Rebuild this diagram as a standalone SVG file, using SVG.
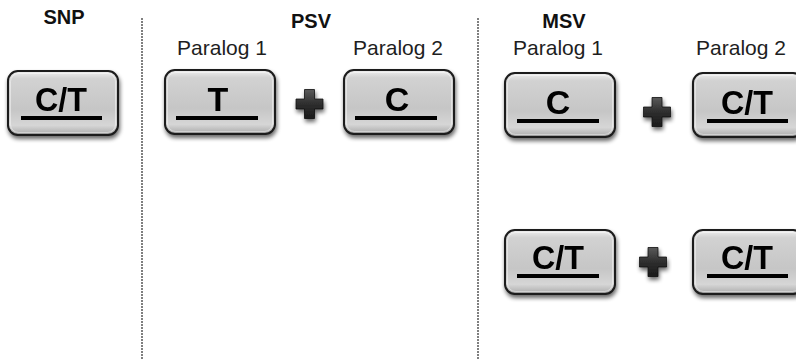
<svg xmlns="http://www.w3.org/2000/svg" width="796" height="359" viewBox="0 0 796 359">
  <defs>
    <linearGradient id="keyFill" x1="0" y1="0" x2="0" y2="1">
      <stop offset="0" stop-color="#f0f0f0"/>
      <stop offset="0.12" stop-color="#d2d2d2"/>
      <stop offset="0.6" stop-color="#c6c6c6"/>
      <stop offset="0.85" stop-color="#d6d6d6"/>
      <stop offset="0.95" stop-color="#b8b8b8"/>
      <stop offset="1" stop-color="#838383"/>
    </linearGradient>
    <linearGradient id="plusFill" x1="0" y1="0" x2="0" y2="1">
      <stop offset="0" stop-color="#5a5a5a"/>
      <stop offset="0.5" stop-color="#2e2e2e"/>
      <stop offset="1" stop-color="#1a1a1a"/>
    </linearGradient>
    <filter id="shadow" x="-20%" y="-20%" width="140%" height="150%">
      <feGaussianBlur in="SourceAlpha" stdDeviation="2.2"/>
      <feOffset dx="1" dy="3" result="b"/>
      <feComponentTransfer><feFuncA type="linear" slope="0.6"/></feComponentTransfer>
      <feMerge><feMergeNode/><feMergeNode in="SourceGraphic"/></feMerge>
    </filter>
    <g id="key">
      <rect x="0" y="0" width="110" height="64" rx="10" ry="10" fill="url(#keyFill)" stroke="#1a1a1a" stroke-width="2"/>
      <rect x="2.5" y="2.5" width="105" height="59" rx="8" ry="8" fill="none" stroke="#ffffff" stroke-opacity="0.45" stroke-width="1"/>
    </g>
    <path id="plus" d="M-5,-14.5 H5 V-5 H13.5 V5 H5 V14.5 H-5 V5 H-13.5 V-5 H-5 Z"/>
  </defs>
  <style>
    .head { font-family: "Liberation Sans", Arial, sans-serif; font-weight: bold; font-size: 20px; fill: #111; text-anchor: middle; }
    .sub { font-family: "Liberation Sans", Arial, sans-serif; font-size: 21px; fill: #1e1e1e; text-anchor: middle; }
    .allele { font-family: "Liberation Sans", Arial, sans-serif; font-weight: bold; font-size: 34px; fill: #000; text-anchor: middle; }
    .bar { stroke: #000; stroke-width: 4; }
    .divider { stroke: #555; stroke-width: 1.5; stroke-dasharray: 2 1; fill: none; }
    .plus { fill: url(#plusFill); stroke: #111; stroke-width: 0.8; }
  </style>

  <!-- column dividers -->
  <g id="connectors">
    <line class="divider" x1="142" y1="18" x2="142" y2="359"/>
    <line class="divider" x1="478" y1="18" x2="478" y2="359"/>
  </g>

  <!-- headings -->
  <text class="head" x="64" y="24">SNP</text>
  <text class="head" x="311" y="28">PSV</text>
  <text class="head" x="564" y="28">MSV</text>
  <text class="sub" x="222" y="55">Paralog 1</text>
  <text class="sub" x="398" y="55">Paralog 2</text>
  <text class="sub" x="558" y="55">Paralog 1</text>
  <text class="sub" x="741" y="55">Paralog 2</text>

  <!-- SNP -->
  <g id="snp-key" transform="translate(8,71)" filter="url(#shadow)">
    <use href="#key"/>
    <text class="allele" x="53" y="40" textLength="52" lengthAdjust="spacingAndGlyphs">C/T</text>
    <line class="bar" x1="13" y1="47" x2="94" y2="47"/>
  </g>

  <!-- PSV -->
  <g id="psv-p1" transform="translate(165,70)" filter="url(#shadow)">
    <use href="#key"/>
    <text class="allele" x="53" y="41">T</text>
    <line class="bar" x1="11" y1="48" x2="93" y2="48"/>
  </g>
  <g id="psv-plus" filter="url(#shadow)"><use class="plus" href="#plus" x="309.5" y="104"/></g>
  <g id="psv-p2" transform="translate(344,70)" filter="url(#shadow)">
    <use href="#key"/>
    <text class="allele" x="53" y="41">C</text>
    <line class="bar" x1="11" y1="48" x2="93" y2="48"/>
  </g>

  <!-- MSV, first row -->
  <g id="msv1-p1" transform="translate(505,73)" filter="url(#shadow)">
    <use href="#key"/>
    <text class="allele" x="53" y="41">C</text>
    <line class="bar" x1="12" y1="48" x2="94" y2="48"/>
  </g>
  <g id="msv1-plus" filter="url(#shadow)"><use class="plus" href="#plus" x="657" y="112"/></g>
  <g id="msv1-p2" transform="translate(693,73)" filter="url(#shadow)">
    <use href="#key"/>
    <text class="allele" x="54" y="41" textLength="52" lengthAdjust="spacingAndGlyphs">C/T</text>
    <line class="bar" x1="14" y1="48" x2="95" y2="48"/>
  </g>

  <!-- MSV, second row -->
  <g id="msv2-p1" transform="translate(505,230)" filter="url(#shadow)">
    <use href="#key"/>
    <text class="allele" x="53" y="39" textLength="52" lengthAdjust="spacingAndGlyphs">C/T</text>
    <line class="bar" x1="12" y1="46" x2="94" y2="46"/>
  </g>
  <g id="msv2-plus" filter="url(#shadow)"><use class="plus" href="#plus" x="653" y="262"/></g>
  <g id="msv2-p2" transform="translate(693,230)" filter="url(#shadow)">
    <use href="#key"/>
    <text class="allele" x="54" y="39" textLength="52" lengthAdjust="spacingAndGlyphs">C/T</text>
    <line class="bar" x1="14" y1="46" x2="95" y2="46"/>
  </g>
</svg>
